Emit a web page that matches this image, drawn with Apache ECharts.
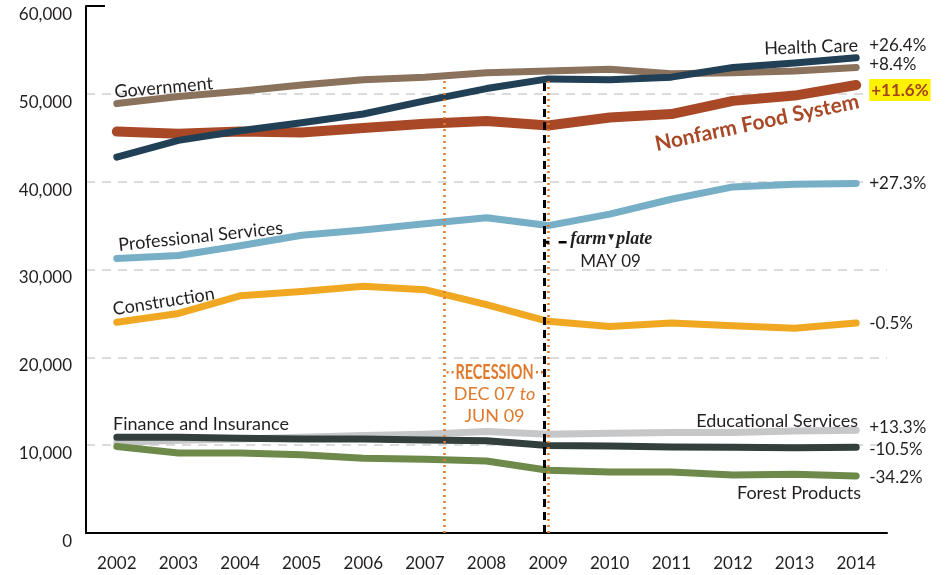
<!DOCTYPE html>
<html>
<head>
<meta charset="utf-8">
<script src="https://cdn.jsdelivr.net/npm/echarts@6/dist/echarts.min.js"></script>
<style>html,body{margin:0;padding:0;background:#fff}#c{width:945px;height:575px}</style>
</head>
<body>
<div id="c"></div>
<script>
const years = ['2002','2003','2004','2005','2006','2007','2008','2009','2010','2011','2012','2013','2014'];
const government   = [48900, 49700, 50300, 51000, 51600, 51900, 52400, 52600, 52800, 52300, 52400, 52600, 53000];
const healthCare   = [42800, 44700, 45800, 46700, 47700, 49200, 50600, 51700, 51600, 51900, 53000, 53500, 54100];
const nonfarmFood  = [45700, 45450, 45700, 45600, 46100, 46600, 46900, 46400, 47300, 47700, 49200, 49800, 51000];
const professional = [31250, 31600, 32700, 33900, 34500, 35200, 35900, 35000, 36300, 38000, 39400, 39700, 39800];
const construction = [24000, 25000, 27000, 27500, 28100, 27700, 26000, 24100, 23500, 23900, 23600, 23300, 23900];
const finance      = [10900, 10900, 10800, 10700, 10700, 10600, 10500, 9950, 9900, 9800, 9750, 9700, 9750];
const education    = [10300, 10550, 10700, 10900, 11100, 11250, 11550, 11250, 11350, 11450, 11450, 11600, 11700];
const forest       = [9850, 9100, 9100, 8900, 8500, 8400, 8200, 7150, 6950, 6950, 6600, 6700, 6500];
const endChanges = {
  healthCare: '+26.4%', government: '+8.4%', nonfarmFood: '+11.6%', professional: '+27.3%',
  construction: '-0.5%', education: '+13.3%', finance: '-10.5%', forest: '-34.2%'
};
const yTicks = [0, 10000, 20000, 30000, 40000, 50000, 60000];
// reference lines (in year units)
const recessionStart = 2007.32, recessionEnd = 2009.0, farmToPlateStart = 2008.94;
const refLineTop = 51600;

const FONT = 'Lato, "Noto Sans", sans-serif';
const TXT = '#231f20';
const ORANGE = '#E07A2C';

const chart = echarts.init(document.getElementById('c'));

function lineSeries(name, data, color, width, key, dy, extra) {
  return Object.assign({
    name, type: 'line', data, symbol: 'none', smooth: false, silent: true,
    lineStyle: { color, width, cap: 'round', join: 'round' },
    endLabel: {
      show: true, distance: 13, offset: [0, dy], color: TXT, fontSize: 17, fontFamily: FONT,
      formatter: () => endChanges[key]
    },
    z: 3
  }, extra || {});
}

const option = {
  animation: false,
  grid: { left: 86, right: 58, top: 6, bottom: 42, containLabel: false },
  xAxis: [{
    type: 'category', data: years, boundaryGap: true,
    axisLine: { lineStyle: { color: '#000', width: 2 } },
    axisTick: { inside: true, length: 12, lineStyle: { color: '#000', width: 1.5 } },
    axisLabel: { color: TXT, fontSize: 17, fontFamily: FONT, margin: 22 },
    splitLine: { show: false }
  }, {
    type: 'value', min: 2001.5, max: 2014.5, show: false
  }],
  yAxis: {
    type: 'value', min: 0, max: 60000, interval: 10000,
    axisLine: { show: true, lineStyle: { color: '#000', width: 2 } },
    axisTick: { show: false },
    axisLabel: {
      color: TXT, fontSize: 17, fontFamily: FONT, margin: 14, verticalAlign: 'top',
      formatter: v => yTicks.indexOf(v) >= 0 ? v.toLocaleString('en-US') : ''
    },
    splitLine: { show: true, showMinLine: false, showMaxLine: false,
      lineStyle: { color: '#d0d0d0', width: 1.5, type: [9, 7] } }
  },
  series: [
    {
      type: 'line', xAxisIndex: 1, data: [], silent: true, z: 2,
      markLine: {
        symbol: 'none', silent: true, label: { show: false },
        data: [
          [{ coord: [recessionStart, 0], lineStyle: { color: ORANGE, width: 2.5, type: [2, 4] } }, { coord: [recessionStart, refLineTop] }],
          [{ coord: [recessionEnd, 0], lineStyle: { color: ORANGE, width: 2.5, type: [2, 4] } }, { coord: [recessionEnd, refLineTop] }],
          [{ coord: [farmToPlateStart, 0], lineStyle: { color: '#000', width: 3, type: [8, 5] } }, { coord: [farmToPlateStart, refLineTop + 200] }]
        ]
      }
    },
    lineSeries('Educational Services', education, '#c6c7c9', 7, 'education', -3),
    lineSeries('Forest Products', forest, '#6e8a4a', 7, 'forest', 2),
    lineSeries('Finance and Insurance', finance, '#323f3d', 7, 'finance', 2),
    lineSeries('Construction', construction, '#f0a822', 7, 'construction', 0),
    lineSeries('Professional Services', professional, '#77afc7', 7, 'professional', 0),
    lineSeries('Government', government, '#8a725c', 7, 'government', -3),
    lineSeries('Nonfarm Food System', nonfarmFood, '#a84826', 10, 'nonfarmFood', 5, {
      endLabel: {
        show: true, distance: 13, offset: [0, 5], color: '#a3421d', fontSize: 17, fontFamily: FONT,
        fontWeight: 'bold', backgroundColor: '#fff200', padding: [3, 2, 2, 2],
        formatter: () => endChanges.nonfarmFood
      }
    }),
    lineSeries('Health Care', healthCare, '#213f55', 7, 'healthCare', -12)
  ]
};
chart.setOption(option);

// annotations placed in data coordinates
function px(year, val) { return chart.convertToPixel({ xAxisIndex: 1, yAxisIndex: 0 }, [year, val]); }
function textWidth(text, font) {
  const t = new echarts.graphic.Text({ style: { text, font } });
  return t.getBoundingRect().width;
}
function label(text, year, val, opts) {
  const p = px(year, val);
  const o = opts || {};
  return {
    type: 'text', x: p[0], y: p[1], rotation: (o.rot || 0) * Math.PI / 180, z: 10, silent: true,
    scaleX: o.scaleX || 1,
    style: {
      text, x: 0, y: 0, align: o.align || 'center', verticalAlign: 'middle',
      fill: o.color || TXT, fontSize: o.size || 18, fontFamily: o.font || FONT,
      fontWeight: o.weight || 'normal', fontStyle: o.style || 'normal', rich: o.rich
    }
  };
}
const axisTop = px(2001.5, 60000);
const dashA = px(2009.17, 33100), dashB = px(2009.30, 33100);
const tickA = px(farmToPlateStart, 33100), tickB = px(farmToPlateStart + 0.08, 33100);
const recL = px(recessionStart, 18300), recR = px(recessionEnd, 18300);
const recTextL = px(2007.5, 18300), recTextR = px(2008.77, 18300);
const recFont = 'bold 20px Lato, sans-serif';
const recScale = (recTextR[0] - recTextL[0]) / textWidth('RECESSION', recFont);

chart.setOption({
  graphic: [
    { type: 'line', shape: { x1: axisTop[0], y1: axisTop[1], x2: axisTop[0] + 19, y2: axisTop[1] }, style: { stroke: '#000', lineWidth: 2 }, z: 10 },
    label('Government', 2002.76, 50700, { rot: 5 }),
    label('Health Care', 2014.03, 55500, { rot: 2, align: 'right' }),
    label('Nonfarm Food System', 2012.39, 46700, { rot: 12, size: 21, weight: 'bold', color: '#a84826' }),
    label('Professional Services', 2003.36, 33750, { rot: 6 }),
    label('Construction', 2002.76, 26350, { rot: 9 }),
    label('Finance and Insurance', 2001.94, 12400, { align: 'left' }),
    label('Educational Services', 2014.03, 12750, { align: 'right' }),
    label('Forest Products', 2014.08, 4550, { align: 'right' }),
    label('RECESSION', 2008.13, 18300, { size: 20, weight: 'bold', color: ORANGE, scaleX: recScale, font: 'Lato, sans-serif' }),
    label('{a|DEC 07 }{b|to}', 2008.13, 15800, { color: ORANGE, size: 18,
      rich: { a: { fontSize: 18, fontFamily: FONT, color: ORANGE }, b: { fontSize: 18, fontFamily: FONT, fontStyle: 'italic', color: ORANGE } } }),
    label('JUN 09', 2008.13, 13300, { color: ORANGE, size: 18 }),
    { type: 'line', shape: { x1: recL[0] + 2, y1: recL[1], x2: recTextL[0] - 2, y2: recL[1] }, style: { stroke: ORANGE, lineWidth: 2.5, lineDash: [2, 3] }, z: 10 },
    { type: 'line', shape: { x1: recTextR[0] + 2, y1: recR[1], x2: recR[0] - 2, y2: recR[1] }, style: { stroke: ORANGE, lineWidth: 2.5, lineDash: [2, 3] }, z: 10 },
    { type: 'line', shape: { x1: tickA[0], y1: tickA[1], x2: tickB[0], y2: tickB[1] }, style: { stroke: '#000', lineWidth: 3 }, z: 10 },
    { type: 'line', shape: { x1: dashA[0], y1: dashA[1], x2: dashB[0], y2: dashB[1] }, style: { stroke: '#000', lineWidth: 2.5 }, z: 10 },
    label('{f|farm}{t|▼}{f|plate}', 2009.36, 33400, { align: 'left',
      rich: { f: { fontSize: 18, fontFamily: '"Liberation Serif", "DejaVu Serif", serif', fontStyle: 'italic', fontWeight: 'bold', color: '#000' },
              t: { fontSize: 10, color: '#000', fontFamily: FONT, padding: [0, 0, 6, 0] } } }),
    label('MAY 09', 2009.52, 30900, { align: 'left', size: 17 })
  ]
});
</script>
</body>
</html>
